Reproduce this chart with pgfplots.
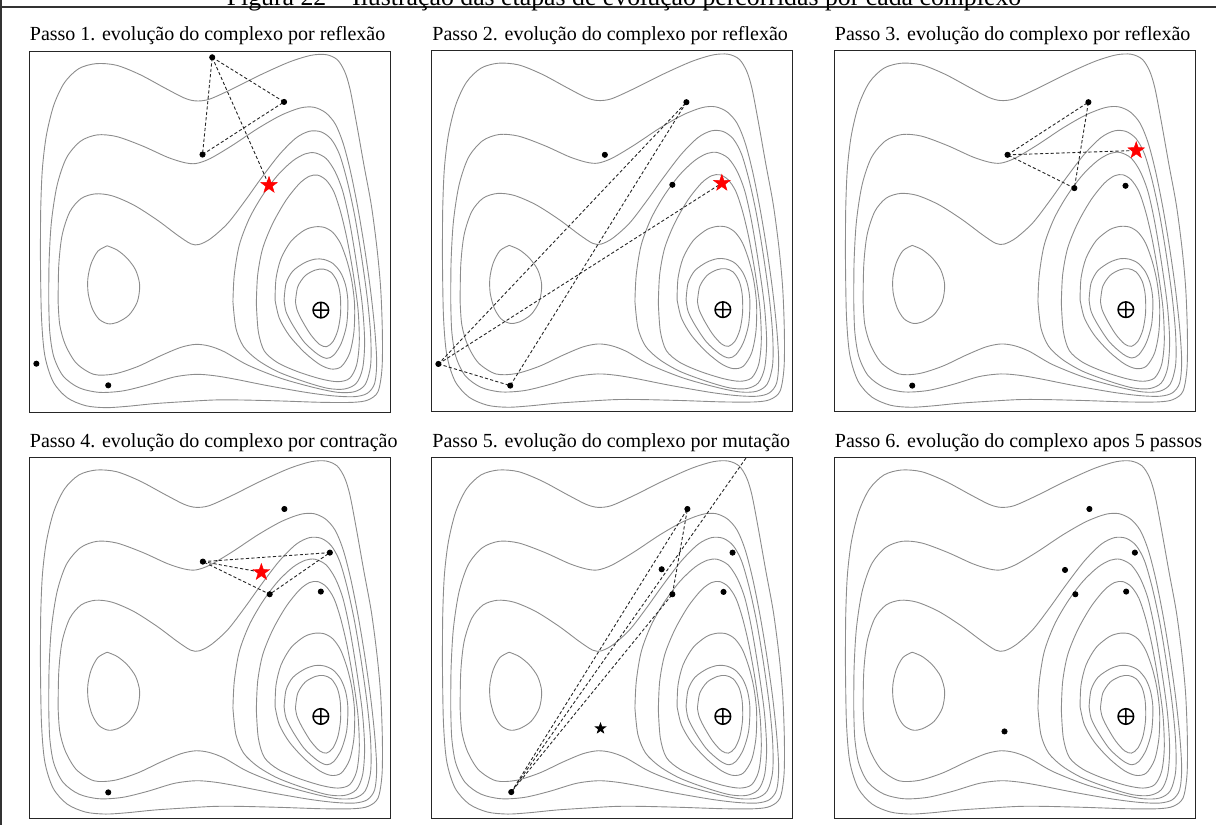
\documentclass[border=0pt]{standalone}
\usepackage{fontspec}
\setmainfont{Liberation Serif}
\usepackage{pgfplots}
\pgfplotsset{compat=1.18}
\usetikzlibrary{plotmarks}

\pgfdeclareplotmark{fstar}{%
  \pgfpathmoveto{\pgfpointpolar{90}{\pgfplotmarksize}}%
  \pgfpathlineto{\pgfpointpolar{126}{0.4*\pgfplotmarksize}}%
  \pgfpathlineto{\pgfpointpolar{162}{\pgfplotmarksize}}%
  \pgfpathlineto{\pgfpointpolar{198}{0.4*\pgfplotmarksize}}%
  \pgfpathlineto{\pgfpointpolar{234}{\pgfplotmarksize}}%
  \pgfpathlineto{\pgfpointpolar{270}{0.4*\pgfplotmarksize}}%
  \pgfpathlineto{\pgfpointpolar{306}{\pgfplotmarksize}}%
  \pgfpathlineto{\pgfpointpolar{342}{0.4*\pgfplotmarksize}}%
  \pgfpathlineto{\pgfpointpolar{18}{\pgfplotmarksize}}%
  \pgfpathlineto{\pgfpointpolar{54}{0.4*\pgfplotmarksize}}%
  \pgfpathclose
  \pgfusepathqfillstroke
}

\pgfplotsset{
  panel/.style={scale only axis, width=180.5pt, height=180.5pt,
    xmin=8, xmax=1088, ymin=8, ymax=1092, y dir=reverse, ticks=none,
    axis line style={line width=0.55pt, black!85}, anchor=north west},
  cont/.style={smooth, color=black!45, line width=0.45pt, mark=none},
  dl/.style={black!85, dash pattern=on 1.6pt off 1.1pt, line width=0.45pt, mark=none},
  pts/.style={only marks, mark=*, mark size=1.3pt, black},
  rstar/.style={only marks, mark=fstar, mark size=4.4pt, red, mark options={fill=red, draw=red, line width=0.2pt}},
}

\newcommand\contours{%
\addplot[cont] coordinates {(40,620) (41,480) (46,360) (58,260) (80,170) (112,102) (155,60) (207,45) (268,50) (338,78) (412,118) (470,148) (505,157) (545,152) (612,122) (700,78) (785,40) (850,20) (895,18) (928,33) (950,68) (966,120) (985,220) (1008,350) (1030,470) (1047,600) (1058,720) (1063,850) (1062,960) (1050,1030) (1020,1055) (975,1062) (880,1062) (760,1058) (640,1055) (560,1055) (470,1060) (380,1066) (300,1074) (235,1078) (175,1072) (120,1048) (78,1000) (53,920) (43,800) (40,620)};
\addplot[cont] coordinates {(65,760) (66,640) (73,520) (90,410) (118,328) (160,278) (210,259) (268,264) (345,292) (420,326) (470,342) (505,345) (548,330) (615,290) (690,240) (760,200) (818,178) (858,176) (893,192) (922,226) (946,285) (968,370) (990,480) (1010,600) (1027,720) (1040,840) (1046,940) (1040,1005) (1018,1035) (980,1045) (920,1043) (840,1033) (720,1012) (620,992) (560,982) (505,978) (440,986) (360,1010) (285,1028) (215,1032) (155,1018) (108,983) (80,925) (68,850) (65,760)};
\addplot[cont] coordinates {(93,760) (95,650) (105,560) (128,490) (162,450) (205,436) (255,442) (320,470) (390,515) (450,560) (490,586) (515,588) (550,570) (600,525) (650,460) (700,390) (755,318) (805,268) (845,248) (880,250) (910,272) (935,318) (958,398) (980,500) (1000,620) (1018,750) (1028,860) (1028,950) (1012,1008) (980,1030) (930,1032) (860,1018) (760,990) (660,950) (590,910) (545,893) (505,888) (460,897) (400,922) (330,955) (260,977) (200,978) (148,945) (115,890) (98,830) (93,760)};
\addplot[cont] coordinates {(616,760) (620,680) (635,590) (665,510) (705,440) (750,380) (795,337) (832,316) (862,313) (895,330) (922,370) (945,430) (965,520) (985,640) (1003,770) (1010,880) (1004,960) (985,1005) (950,1022) (900,1020) (830,1000) (750,970) (690,935) (648,895) (625,840) (616,760)};
\addplot[cont] coordinates {(686,765) (690,680) (705,600) (735,525) (775,455) (815,405) (845,383) (870,380) (895,395) (918,430) (938,490) (957,570) (975,670) (990,780) (994,880) (986,950) (965,990) (930,1000) (880,992) (810,970) (750,943) (710,908) (692,850) (686,765)};
\addplot[cont] coordinates {(742,755) (745,690) (760,630) (790,578) (830,545) (862,535) (890,537) (915,552) (938,585) (958,640) (972,700) (980,770) (978,850) (965,915) (940,955) (910,962) (875,948) (830,912) (785,862) (755,810) (742,755)};
\addplot[cont] coordinates {(769,755) (775,705) (795,668) (830,643) (862,632) (888,633) (915,645) (938,672) (953,710) (960,760) (956,830) (940,885) (918,920) (897,930) (870,918) (830,882) (795,830) (775,790) (769,755)};
\addplot[cont] coordinates {(803,760) (810,715) (832,682) (862,665) (887,662) (910,672) (928,700) (937,740) (938,795) (930,845) (915,880) (896,895) (875,888) (848,858) (822,815) (808,785) (803,760)};
\addplot[cont] coordinates {(240,592) (270,605) (300,630) (325,665) (337,710) (330,760) (305,800) (270,822) (242,826) (215,812) (195,780) (183,735) (182,690) (192,645) (212,608) (240,592)};
\addplot[only marks, mark=oplus, mark size=3.9pt, black, mark options={line width=0.75pt}] coordinates {(879,785)};
}

\begin{document}
\begin{tikzpicture}[x=0.5pt, y=-0.5pt]
\useasboundingbox (0,0) rectangle (1216,825);
\coordinate (p1) at (29.7,51.3);
\coordinate (p2) at (431.7,50.9);
\coordinate (p3) at (834.7,50.9);
\coordinate (p4) at (29.7,457.7);
\coordinate (p5) at (431.7,457.7);
\coordinate (p6) at (834.7,457.7);
\draw[line width=0.6pt, black!80] (1,0) -- (1,825);
\draw[line width=0.6pt, black!80] (0,7) -- (1216,7);
\node[anchor=base, font=\fontsize{12.9pt}{15pt}\selectfont, inner sep=0pt] at (624,5) {Figura 22 -- Ilustração das etapas de evolução percorridas por cada complexo};

\tikzset{ttl/.style={anchor=base west, inner sep=0pt, font=\fontsize{10pt}{12pt}\selectfont}}
\node[ttl] at (29.5,40.7) {Passo 1. evolução do complexo por reflexão};
\node[ttl] at (432,40.7) {Passo 2. evolução do complexo por reflexão};
\node[ttl] at (834.5,40.7) {Passo 3. evolução do complexo por reflexão};
\node[ttl] at (29.5,447) {Passo 4. evolução do complexo por contração};
\node[ttl] at (432,447) {Passo 5. evolução do complexo por mutação};
\node[ttl] at (834.5,447) {Passo 6. evolução do complexo apos 5 passos};

% Panel 1
\begin{axis}[panel, at={(p1)}]
\contours
\addplot[dl] coordinates {(554,26) (769,160) (525,318) (554,26)};
\addplot[dl] coordinates {(554,26) (724,410)};
\addplot[pts] coordinates {(554,26) (769,160) (525,318) (28,946) (243,1011)};
\addplot[rstar] coordinates {(724,410)};
\end{axis}

% Panel 2
\begin{axis}[panel, at={(p2)}]
\contours
\addplot[dl] coordinates {(28,948) (243,1013) (770,162) (28,948)};
\addplot[dl] coordinates {(28,948) (876,405)};
\addplot[pts] coordinates {(770,162) (526,320) (728,410) (28,948) (243,1013)};
\addplot[rstar] coordinates {(876,405)};
\end{axis}

% Panel 3
\begin{axis}[panel, at={(p3)}]
\contours
\addplot[dl] coordinates {(525,320) (767,162) (725,420) (525,320)};
\addplot[dl] coordinates {(525,320) (910,307)};
\addplot[pts] coordinates {(767,162) (525,320) (725,420) (878,413) (240,1013)};
\addplot[rstar] coordinates {(910,307)};
\end{axis}

% Panel 4
\begin{axis}[panel, at={(p4)}]
\contours
\addplot[dl] coordinates {(526,320) (906,293) (726,418) (526,320)};
\addplot[dl] coordinates {(526,320) (701,352)};
\addplot[pts] coordinates {(770,162) (526,320) (906,293) (726,418) (879,410) (243,1013)};
\addplot[rstar] coordinates {(701,352)};
\end{axis}

% Panel 5
\begin{axis}[panel, at={(p5)}]
\contours
\addplot[dl] coordinates {(246,1012) (773,162) (728,418) (246,1012)};
\addplot[dl] coordinates {(246,1012) (951,5)};
\addplot[pts] coordinates {(773,162) (908,293) (696,343) (728,418) (881,411) (246,1012)};
\addplot[only marks, mark=fstar, mark size=2.6pt, black, mark options={fill=black}] coordinates {(513,821)};
\end{axis}

% Panel 6
\begin{axis}[panel, at={(p6)}]
\contours
\addplot[pts] coordinates {(770,162) (906,293) (697,345) (728,418) (880,410) (516,830)};
\end{axis}
\end{tikzpicture}
\end{document}
